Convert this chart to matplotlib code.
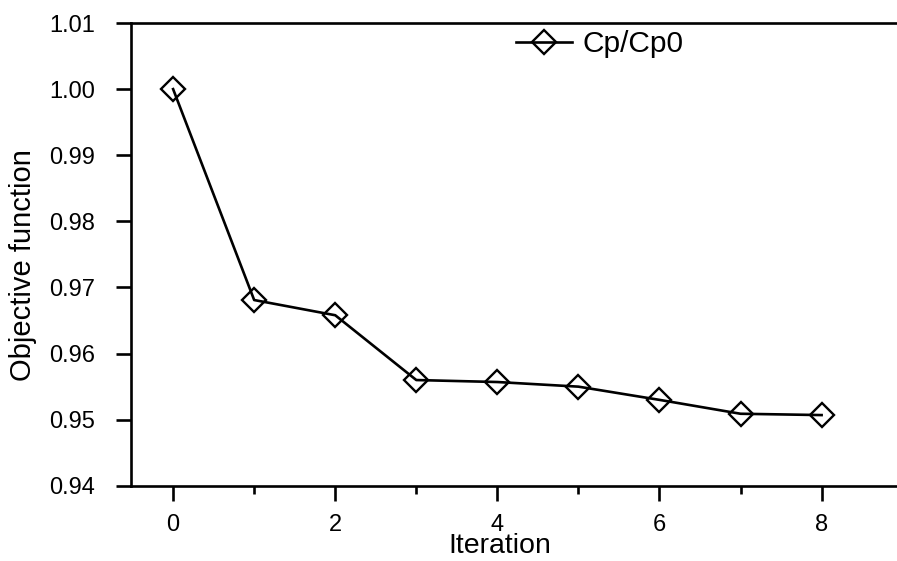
import matplotlib.pyplot as plt
from matplotlib.ticker import MultipleLocator, FormatStrFormatter

plt.rcParams["font.family"] = ["Liberation Sans", "DejaVu Sans"]

iterations = [0, 1, 2, 3, 4, 5, 6, 7, 8]
cp_ratio = [1.000, 0.9681, 0.9658, 0.9560, 0.9557, 0.9550, 0.9530, 0.9509, 0.9507]


def main():
    fig = plt.figure(figsize=(8.97, 5.61), dpi=100)
    ax = fig.add_axes([0.146, 0.134, 0.854, 0.825])

    ax.plot(iterations, cp_ratio, color="black", lw=1.9, marker="D", ms=12,
            mfc="none", mec="black", mew=1.7, label="Cp/Cp0")

    ax.set_xlim(-0.52, 8.93)
    ax.set_ylim(0.94, 1.01)
    ax.xaxis.set_major_locator(MultipleLocator(2))
    ax.xaxis.set_minor_locator(MultipleLocator(1))
    ax.yaxis.set_major_locator(MultipleLocator(0.01))
    ax.yaxis.set_major_formatter(FormatStrFormatter("%.2f"))

    for side in ["left", "top", "bottom"]:
        ax.spines[side].set_linewidth(1.9)
    ax.spines["right"].set_visible(False)

    ax.tick_params(axis="both", which="major", direction="out", length=11,
                   width=1.9, labelsize=17, pad=15)
    ax.tick_params(axis="x", which="minor", direction="out", length=6, width=1.9)
    ax.tick_params(axis="x", which="major", pad=9)

    ax.set_xlabel("Iteration", fontsize=20.5)
    ax.xaxis.set_label_coords(0.482, -0.103)
    ax.set_ylabel("Objective function", fontsize=21)
    ax.yaxis.set_label_coords(-0.123, 0.478)

    ax.legend(loc="upper left", bbox_to_anchor=(0.467, 1.042), frameon=False,
              fontsize=21.5, handlelength=1.9, handletextpad=0.35)

    fig.savefig("out.png", dpi=100)
    plt.close(fig)


main()
